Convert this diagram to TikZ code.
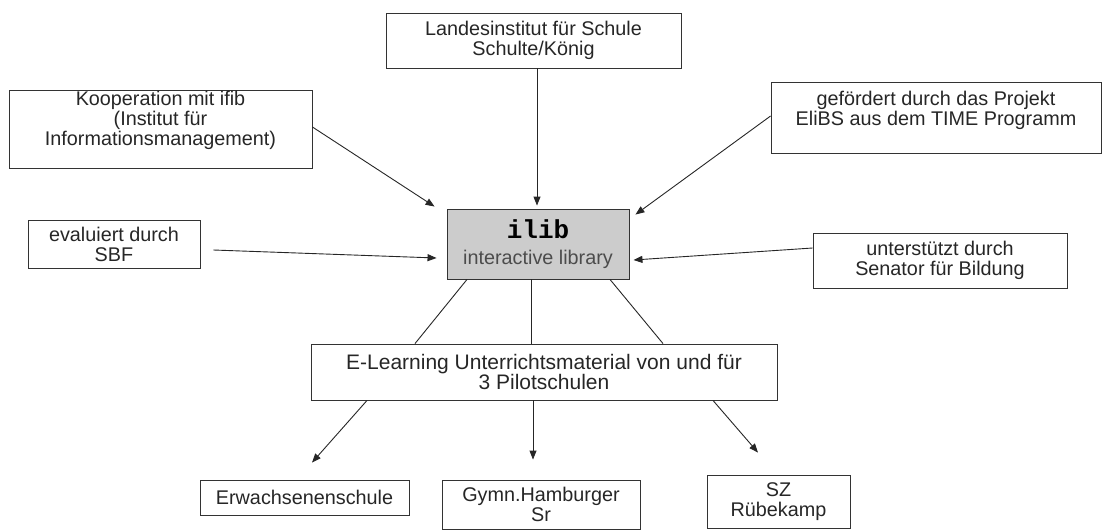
\documentclass[tikz,border=0pt]{standalone}
\usepackage{fontspec}
\setmainfont{Liberation Sans}
\newfontfamily\ilibmono{Liberation Mono}
\usetikzlibrary{arrows.meta,calc}
\begin{document}
\begin{tikzpicture}[x=1pt,y=-1pt,
  box/.style={draw=black!80, line width=0.9pt, inner sep=0pt, align=center,
    font=\fontsize{19.8}{20}\selectfont, text=black!85},
  txt/.style={inner sep=0pt, align=center, font=\fontsize{19.8}{20}\selectfont, text=black!85},
  arr/.style={draw=black!85, line width=0.9pt, -{Triangle[length=9pt,width=7pt]}},
  ln/.style={draw=black!85, line width=0.9pt}]
\useasboundingbox (0,0) rectangle (1107,531);

\node[box, minimum width=295pt, minimum height=55pt] (lis) at (533.5,40.5)
  {Landesinstitut für Schule\\Schulte/König};
\node[box, minimum width=303pt, minimum height=78pt] (koop) at (160.5,129) {};
\node[txt] (koopt) at (160.5,120) {Kooperation mit ifib\\(Institut für\\Informationsmanagement)};
\node[box, minimum width=330pt, minimum height=71pt] (gef) at (936,117.5) {};
\node[txt] (geft) at (936,110) {gefördert durch das Projekt\\EliBS aus dem TIME Programm};
\node[box, fill=black!20, minimum width=182pt, minimum height=70pt] (ilib) at (538,244)
  {{\ilibmono\bfseries\fontsize{26}{26}\selectfont\color{black} ilib}\\[6pt]{\color{black!70}interactive library}};
\node[box, minimum width=172pt, minimum height=48pt] (eval) at (114,244) {evaluiert durch\\SBF};
\node[box, minimum width=254pt, minimum height=55pt] (unt) at (940,260.5) {unterstützt durch\\Senator für Bildung};
\node[box, minimum width=466pt, minimum height=56pt, font=\fontsize{21}{19}\selectfont] (elearn) at (544,372)
  {E-Learning Unterrichtsmaterial von und für\\3 Pilotschulen};
\node[box, minimum width=209pt, minimum height=35pt] (erw) at (304.5,497.5) {Erwachsenenschule};
\node[box, minimum width=198pt, minimum height=49pt] (gym) at (541,504.5) {Gymn.Hamburger\\Sr};
\node[box, minimum width=143pt, minimum height=53pt] (sz) at (778.5,501.5) {SZ\\Rübekamp};

\draw[arr] ($(lis.south)+(3.5,0)$) -- ($(ilib.north)+(-1,-3)$);
\draw[arr] ($(koop.east)+(0,-2)$) -- ($(ilib.north west)+(-12,-2)$);
\draw[arr] ($(eval.east)+(13,6)$) -- ($(ilib.west)+(-10,14)$);
\draw[arr] ($(gef.west)+(0,-1.5)$) -- ($(ilib.north east)+(6,6)$);
\draw[arr] ($(unt.west)+(0,-12.5)$) -- ($(ilib.east)+(4,16)$);

\draw[ln] ($(ilib.south)+(-71,0)$) -- ($(elearn.north)+(-129,0)$);
\draw[ln] ($(ilib.south)+(-7,0)$) -- ($(elearn.north)+(-13,0)$);
\draw[ln] ($(ilib.south)+(72,0)$) -- ($(elearn.north)+(119,0)$);

\draw[arr] ($(elearn.south)+(-177,0)$) -- ($(erw.north)+(7.5,-17)$);
\draw[arr] ($(elearn.south)+(-11,0)$) -- ($(gym.north)+(-8,-20)$);
\draw[arr] ($(elearn.south)+(169,0)$) -- ($(sz.north)+(-20.5,-22)$);
\end{tikzpicture}
\end{document}
